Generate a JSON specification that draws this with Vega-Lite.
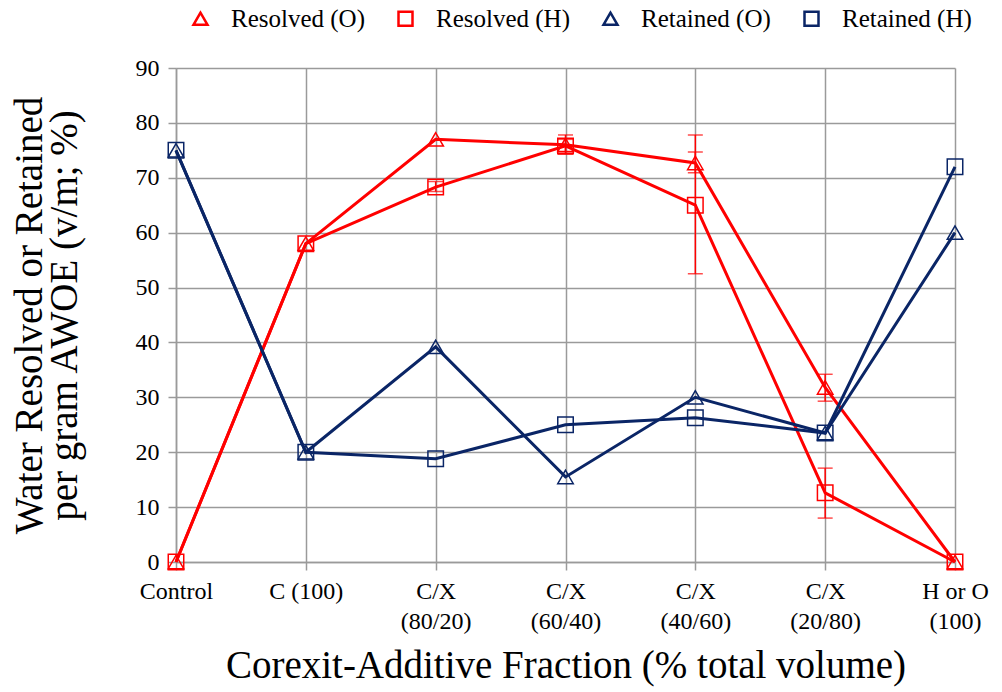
{
  "$schema": "https://vega.github.io/schema/vega-lite/v6.json",
  "width": 779,
  "height": 494,
  "autosize": "none",
  "padding": {"left": 176, "top": 68, "right": 47, "bottom": 130},
  "background": "white",
  "config": {
    "font": "Liberation Serif",
    "view": {"stroke": null},
    "axis": {
      "gridColor": "#9a9a9a",
      "gridWidth": 1.5,
      "domainColor": "#9a9a9a",
      "domainWidth": 1.5,
      "tickColor": "#9a9a9a",
      "tickWidth": 1.5,
      "tickSize": 8,
      "labelColor": "black",
      "titleColor": "black",
      "labelFont": "Liberation Serif",
      "titleFont": "Liberation Serif",
      "titleFontWeight": "normal"
    },
    "legend": {"labelFont": "Liberation Serif"}
  },
  "data": {
    "values": [
      {"cat": "Control", "series": "Resolved (O)", "value": 0},
      {"cat": "C (100)", "series": "Resolved (O)", "value": 58},
      {"cat": "C/X (80/20)", "series": "Resolved (O)", "value": 77},
      {"cat": "C/X (60/40)", "series": "Resolved (O)", "value": 76, "lo": 74.7, "hi": 77.0},
      {"cat": "C/X (40/60)", "series": "Resolved (O)", "value": 72.7, "lo": 70.9, "hi": 74.7},
      {"cat": "C/X (20/80)", "series": "Resolved (O)", "value": 31.8, "lo": 29.3, "hi": 34.2},
      {"cat": "H or O (100)", "series": "Resolved (O)", "value": 0},
      {"cat": "Control", "series": "Resolved (H)", "value": 0},
      {"cat": "C (100)", "series": "Resolved (H)", "value": 58},
      {"cat": "C/X (80/20)", "series": "Resolved (H)", "value": 68.3, "lo": 67.5, "hi": 69.3},
      {"cat": "C/X (60/40)", "series": "Resolved (H)", "value": 75.8, "lo": 74.3, "hi": 77.8},
      {"cat": "C/X (40/60)", "series": "Resolved (H)", "value": 65.0, "lo": 52.5, "hi": 77.8},
      {"cat": "C/X (20/80)", "series": "Resolved (H)", "value": 12.6, "lo": 8.0, "hi": 17.1},
      {"cat": "H or O (100)", "series": "Resolved (H)", "value": 0},
      {"cat": "Control", "series": "Retained (O)", "value": 75},
      {"cat": "C (100)", "series": "Retained (O)", "value": 20},
      {"cat": "C/X (80/20)", "series": "Retained (O)", "value": 39.2},
      {"cat": "C/X (60/40)", "series": "Retained (O)", "value": 15.5},
      {"cat": "C/X (40/60)", "series": "Retained (O)", "value": 30},
      {"cat": "C/X (20/80)", "series": "Retained (O)", "value": 23.5},
      {"cat": "H or O (100)", "series": "Retained (O)", "value": 60},
      {"cat": "Control", "series": "Retained (H)", "value": 75},
      {"cat": "C (100)", "series": "Retained (H)", "value": 20},
      {"cat": "C/X (80/20)", "series": "Retained (H)", "value": 18.8},
      {"cat": "C/X (60/40)", "series": "Retained (H)", "value": 25},
      {"cat": "C/X (40/60)", "series": "Retained (H)", "value": 26.3},
      {"cat": "C/X (20/80)", "series": "Retained (H)", "value": 23.5},
      {"cat": "H or O (100)", "series": "Retained (H)", "value": 72}
    ]
  },
  "encoding": {
    "x": {
      "field": "cat",
      "type": "ordinal",
      "sort": ["Control", "C (100)", "C/X (80/20)", "C/X (60/40)", "C/X (40/60)", "C/X (20/80)", "H or O (100)"],
      "scale": {"type": "point", "padding": 0},
      "axis": {
        "title": "Corexit-Additive Fraction (% total volume)",
        "titleFontSize": 39,
        "titlePadding": 13,
        "labelFontSize": 24,
        "labelPadding": 9,
        "labelLineHeight": 30,
        "labelAngle": 0,
        "labelOverlap": false,
        "labelBaseline": "top",
        "labelExpr": "(datum.label == 'Control' || datum.label == 'C (100)') ? datum.label : [slice(datum.label, 0, lastindexof(datum.label, ' ')), slice(datum.label, lastindexof(datum.label, ' ') + 1)]",
        "grid": true
      }
    }
  },
  "layer": [
    {
      "transform": [{"filter": "isValid(datum.lo)"}],
      "mark": {"type": "rule", "color": "#FF0000", "strokeWidth": 1.5},
      "encoding": {
        "y": {"field": "lo", "type": "quantitative"},
        "y2": {"field": "hi"}
      }
    },
    {
      "transform": [{"filter": "isValid(datum.lo)"}],
      "mark": {"type": "tick", "color": "#FF0000", "thickness": 1.5, "size": 15},
      "encoding": {"y": {"field": "lo", "type": "quantitative"}}
    },
    {
      "transform": [{"filter": "isValid(datum.hi)"}],
      "mark": {"type": "tick", "color": "#FF0000", "thickness": 1.5, "size": 15},
      "encoding": {"y": {"field": "hi", "type": "quantitative"}}
    },
    {
      "mark": {"type": "line", "strokeWidth": 3},
      "encoding": {
        "y": {"field": "value", "type": "quantitative"},
        "color": {"field": "series", "type": "nominal",
          "scale": {"domain": ["Resolved (O)", "Resolved (H)", "Retained (O)", "Retained (H)"], "range": ["#FF0000", "#FF0000", "#0A2566", "#0A2566"]}},
        "detail": {"field": "series"}
      }
    },
    {
      "mark": {"type": "point", "filled": false, "strokeWidth": 1.5, "size": 240, "opacity": 1},
      "encoding": {
        "y": {
          "field": "value",
          "type": "quantitative",
          "scale": {"domain": [0, 90], "nice": false},
          "axis": {
            "values": [0, 10, 20, 30, 40, 50, 60, 70, 80, 90],
            "title": ["Water Resolved or Retained", "per gram AWOE (v/m; %)"],
            "titleFontSize": 39,
            "titleLineHeight": 35,
            "titlePadding": 51,
            "labelFontSize": 24,
            "labelPadding": 9,
            "grid": true
          }
        },
        "color": {"field": "series", "type": "nominal",
          "scale": {"domain": ["Resolved (O)", "Resolved (H)", "Retained (O)", "Retained (H)"], "range": ["#FF0000", "#FF0000", "#0A2566", "#0A2566"]},
          "legend": {
            "title": null,
            "orient": "none",
            "legendX": 12,
            "legendY": -62,
            "direction": "horizontal",
            "columns": 4,
            "labelFontSize": 25,
            "labelColor": "black",
            "symbolSize": 196,
            "symbolStrokeWidth": 2.5,
            "symbolFillColor": "transparent",
            "labelOffset": 18,
            "columnPadding": 28
          }
        },
        "shape": {"field": "series", "type": "nominal", "legend": null,
          "scale": {"domain": ["Resolved (O)", "Resolved (H)", "Retained (O)", "Retained (H)"], "range": ["triangle-up", "square", "triangle-up", "square"]}}
      }
    }
  ]
}
